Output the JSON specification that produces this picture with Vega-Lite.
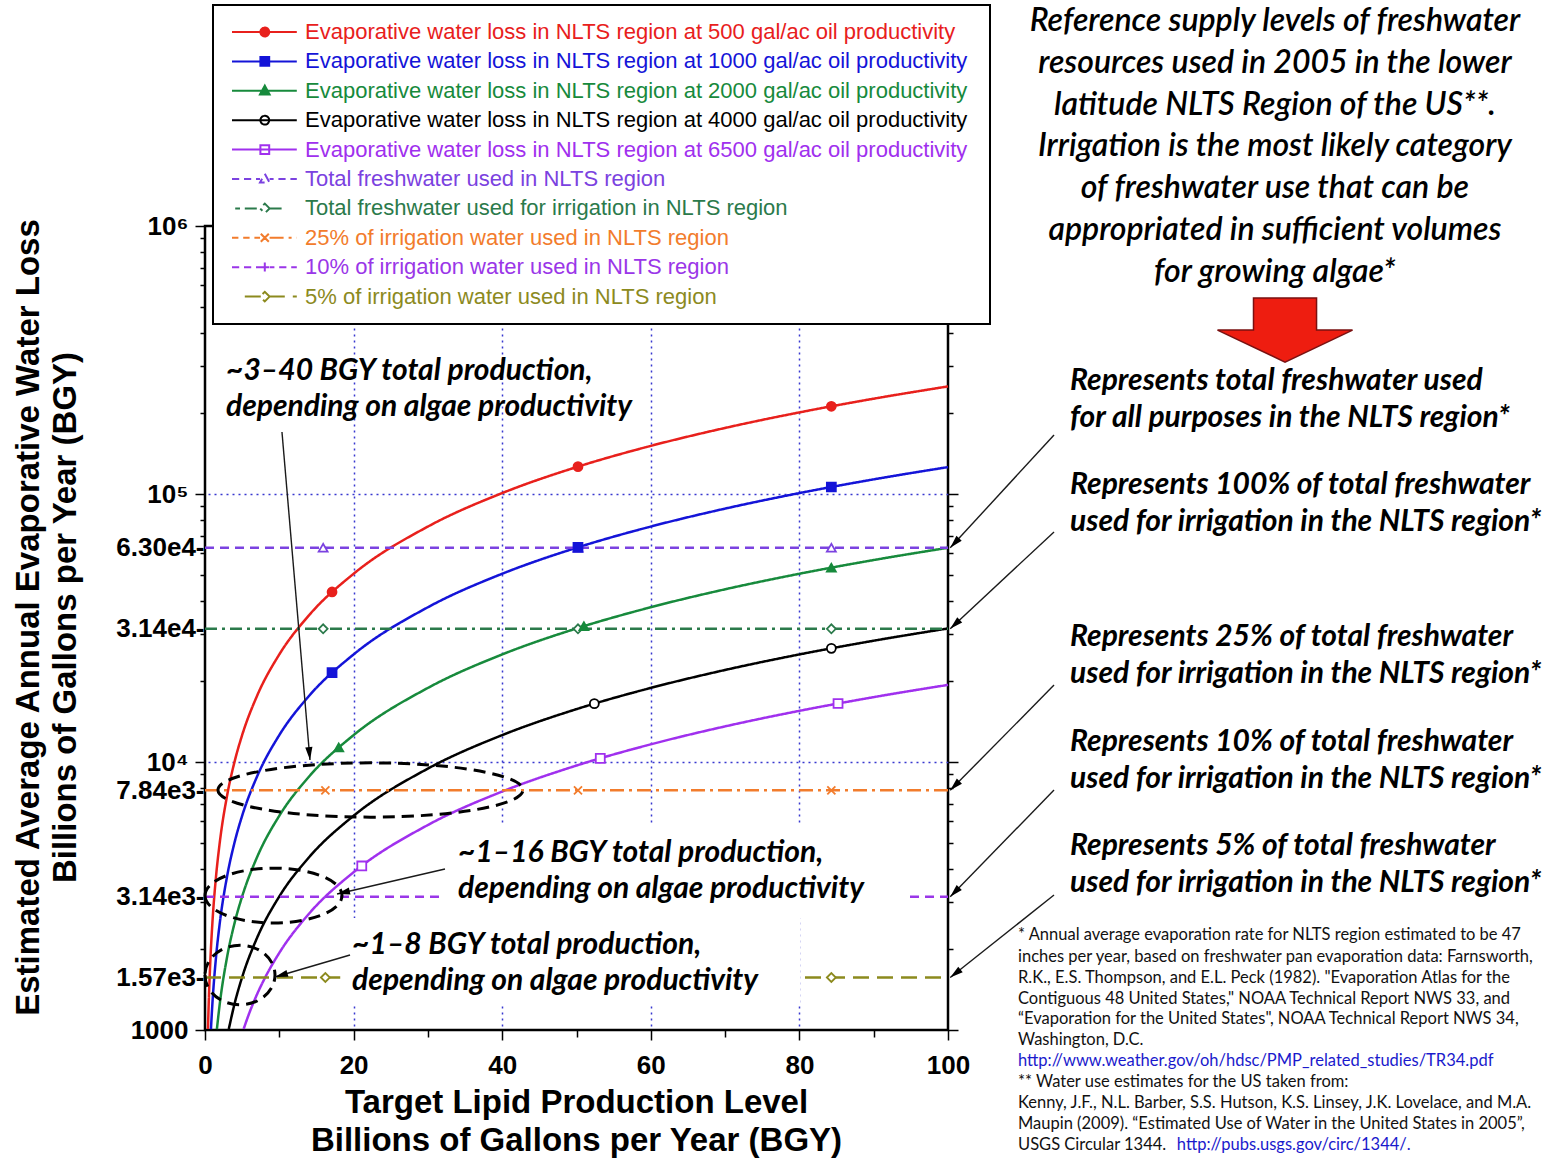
{
"$schema": "https://vega.github.io/schema/vega-lite/v6.json",
"width": 743, "height": 804,
"autosize": {"type": "none"},
"padding": {"left": 205, "top": 226, "right": 611, "bottom": 130},
"background": "white",
"config": {
  "view": {"stroke": "black", "strokeWidth": 2.5},
  "axis": {"labelFont": "Liberation Sans", "labelFontWeight": "bold", "labelColor": "black", "titleFont": "Liberation Sans", "titleFontWeight": "bold", "titleColor": "black", "domain": false, "tickColor": "black", "tickWidth": 1.5}
},
"datasets": {
  "lines": [
    {"series":"e500","x":0.4,"y":1008},{"series":"e500","x":0.5,"y":1260},{"series":"e500","x":0.7,"y":1764},{"series":"e500","x":1,"y":2520},{"series":"e500","x":1.5,"y":3780},{"series":"e500","x":2,"y":5040},{"series":"e500","x":3,"y":7560},{"series":"e500","x":4,"y":10080},{"series":"e500","x":5,"y":12600},{"series":"e500","x":7,"y":17640},{"series":"e500","x":10,"y":25200},{"series":"e500","x":14,"y":35280},{"series":"e500","x":20,"y":50400},{"series":"e500","x":30,"y":75600},{"series":"e500","x":40,"y":100800},{"series":"e500","x":50,"y":126000},{"series":"e500","x":60,"y":151200},{"series":"e500","x":70,"y":176400},{"series":"e500","x":80,"y":201600},{"series":"e500","x":90,"y":226800},{"series":"e500","x":100,"y":252000},
    {"series":"e1000","x":0.8,"y":1008},{"series":"e1000","x":1,"y":1260},{"series":"e1000","x":1.5,"y":1890},{"series":"e1000","x":2,"y":2520},{"series":"e1000","x":3,"y":3780},{"series":"e1000","x":4,"y":5040},{"series":"e1000","x":5,"y":6300},{"series":"e1000","x":7,"y":8820},{"series":"e1000","x":10,"y":12600},{"series":"e1000","x":14,"y":17640},{"series":"e1000","x":20,"y":25200},{"series":"e1000","x":30,"y":37800},{"series":"e1000","x":40,"y":50400},{"series":"e1000","x":50,"y":63000},{"series":"e1000","x":60,"y":75600},{"series":"e1000","x":70,"y":88200},{"series":"e1000","x":80,"y":100800},{"series":"e1000","x":90,"y":113400},{"series":"e1000","x":100,"y":126000},
    {"series":"e2000","x":1.6,"y":1008},{"series":"e2000","x":2,"y":1260},{"series":"e2000","x":3,"y":1890},{"series":"e2000","x":4,"y":2520},{"series":"e2000","x":5,"y":3150},{"series":"e2000","x":7,"y":4410},{"series":"e2000","x":10,"y":6300},{"series":"e2000","x":14,"y":8820},{"series":"e2000","x":20,"y":12600},{"series":"e2000","x":30,"y":18900},{"series":"e2000","x":40,"y":25200},{"series":"e2000","x":50,"y":31500},{"series":"e2000","x":60,"y":37800},{"series":"e2000","x":70,"y":44100},{"series":"e2000","x":80,"y":50400},{"series":"e2000","x":90,"y":56700},{"series":"e2000","x":100,"y":63000},
    {"series":"e4000","x":3.2,"y":1008},{"series":"e4000","x":4,"y":1260},{"series":"e4000","x":5,"y":1575},{"series":"e4000","x":7,"y":2205},{"series":"e4000","x":10,"y":3150},{"series":"e4000","x":14,"y":4410},{"series":"e4000","x":20,"y":6300},{"series":"e4000","x":30,"y":9450},{"series":"e4000","x":40,"y":12600},{"series":"e4000","x":50,"y":15750},{"series":"e4000","x":60,"y":18900},{"series":"e4000","x":70,"y":22050},{"series":"e4000","x":80,"y":25200},{"series":"e4000","x":90,"y":28350},{"series":"e4000","x":100,"y":31500},
    {"series":"e6500","x":5.2,"y":1009},{"series":"e6500","x":6,"y":1164},{"series":"e6500","x":7,"y":1358},{"series":"e6500","x":8,"y":1552},{"series":"e6500","x":10,"y":1940},{"series":"e6500","x":14,"y":2716},{"series":"e6500","x":20,"y":3880},{"series":"e6500","x":30,"y":5820},{"series":"e6500","x":40,"y":7760},{"series":"e6500","x":50,"y":9700},{"series":"e6500","x":60,"y":11640},{"series":"e6500","x":70,"y":13580},{"series":"e6500","x":80,"y":15520},{"series":"e6500","x":90,"y":17460},{"series":"e6500","x":100,"y":19400},
    {"series":"total","x":0,"y":63000},{"series":"total","x":100,"y":63000},
    {"series":"irr","x":0,"y":31400},{"series":"irr","x":100,"y":31400},
    {"series":"p25","x":0,"y":7840},{"series":"p25","x":100,"y":7840},
    {"series":"p10","x":0,"y":3140},{"series":"p10","x":100,"y":3140},
    {"series":"p5","x":0,"y":1570},{"series":"p5","x":100,"y":1570}
  ],
  "markers": [
    {"series":"total","x":15.9,"y":63000},{"series":"total","x":50.2,"y":63000},{"series":"total","x":84.3,"y":63000},
    {"series":"irr","x":15.9,"y":31400},{"series":"irr","x":50.2,"y":31400},{"series":"irr","x":84.3,"y":31400},
    {"series":"p25","x":16.2,"y":7840},{"series":"p25","x":50.2,"y":7840},{"series":"p25","x":84.3,"y":7840},
    {"series":"p10","x":50.2,"y":3140},{"series":"p10","x":84.3,"y":3140},
    {"series":"p5","x":16.2,"y":1570},{"series":"p5","x":50.2,"y":1570},{"series":"p5","x":84.3,"y":1570},
    {"series":"e500","x":17.1,"y":43100},{"series":"e500","x":50.2,"y":126500},{"series":"e500","x":84.3,"y":212400},
    {"series":"e1000","x":17.1,"y":21550},{"series":"e1000","x":50.2,"y":63250},{"series":"e1000","x":84.3,"y":106200},
    {"series":"e2000","x":18.0,"y":11340},{"series":"e2000","x":51.0,"y":32130},{"series":"e2000","x":84.3,"y":53110},
    {"series":"e4000","x":52.4,"y":16510},{"series":"e4000","x":84.3,"y":26550},
    {"series":"e6500","x":21.1,"y":4093},{"series":"e6500","x":53.2,"y":10320},{"series":"e6500","x":85.2,"y":16530}
  ],
  "boxes": [
    {"x":31.6,"x2":94.2,"y":5821,"y2":2618},
    {"x":18.2,"x2":80.1,"y":2618,"y2":1261}
  ],
  "ellipses": [
    {"id":"E1","x":22.27,"y":7862},
    {"id":"E2","x":9.22,"y":3175},
    {"id":"E3","x":4.71,"y":1604}
  ],
  "arrows": [
    {"id":"A1","x":10.36,"y":170300,"x2":14.13,"y2":10170,"angle":175},
    {"id":"A2","x":32.3,"y":3988,"x2":17.77,"y2":3217,"angle":-103},
    {"id":"A3","x":19.52,"y":1905,"x2":9.42,"y2":1577,"angle":-106},
    {"id":"R1","x":114.27,"y":166000,"x2":100.3,"y2":63000,"angle":-137},
    {"id":"R2","x":114.27,"y":72200,"x2":100.3,"y2":31400,"angle":-133},
    {"id":"R3","x":114.27,"y":19360,"x2":100.3,"y2":7840,"angle":-135},
    {"id":"R4","x":114.27,"y":7862,"x2":100.3,"y2":3140,"angle":-136},
    {"id":"R5","x":114.27,"y":3189,"x2":100.3,"y2":1570,"angle":-128}
  ],
  "ann": [
    {"txt":"~3–40 BGY total production,\ndepending on algae productivity","x":2.83,"y":287700},
    {"txt":"~1–16 BGY total production,\ndepending on algae productivity","x":34.05,"y":4576},
    {"txt":"~1–8 BGY total production,\ndepending on algae productivity","x":19.8,"y":2076}
  ],
  "head": [
    {"txt":"Reference supply levels of freshwater\nresources used in 2005 in the lower\nlatitude NLTS Region of the US**.\nIrrigation is the most likely category\nof freshwater use that can be\nappropriated in sufficient volumes\nfor growing algae*","x":144.0,"y":5820000}
  ],
  "side": [
    {"txt":"Represents total freshwater used\nfor all purposes in the NLTS region*","x":116.42,"y":264000},
    {"txt":"Represents 100% of total freshwater\nused for irrigation in the NLTS region*","x":116.42,"y":108000},
    {"txt":"Represents 25% of total freshwater\nused for irrigation in the NLTS region*","x":116.42,"y":29270},
    {"txt":"Represents 10% of total  freshwater\nused for irrigation in the NLTS region*","x":116.42,"y":11874},
    {"txt":"Represents 5% of total freshwater\nused for irrigation in the NLTS region*","x":116.42,"y":4860}
  ],
  "foot": [
    {"txt":"* Annual average evaporation  rate for NLTS region estimated to be 47","x":109.42,"y":2262,"link":false},
    {"txt":"inches per year, based on freshwater pan evaporation data:  Farnsworth,","x":109.42,"y":1873,"link":false},
    {"txt":"R.K., E.S. Thompson, and E.L. Peck (1982).  \"Evaporation Atlas for the","x":109.42,"y":1563,"link":false},
    {"txt":"Contiguous 48 United States,\" NOAA Technical Report NWS 33, and","x":109.42,"y":1305,"link":false},
    {"txt":"“Evaporation for the United States\", NOAA Technical Report NWS 34,","x":109.42,"y":1099,"link":false},
    {"txt":"Washington, D.C.","x":109.42,"y":917.6,"link":false},
    {"txt":"http://www.weather.gov/oh/hdsc/PMP_related_studies/TR34.pdf","x":109.42,"y":766,"link":true},
    {"txt":"** Water use estimates for the US taken from:","x":109.42,"y":639.7,"link":false},
    {"txt":"Kenny, J.F., N.L. Barber, S.S. Hutson, K.S. Linsey, J.K. Lovelace, and M.A.","x":109.42,"y":534.1,"link":false},
    {"txt":"Maupin (2009).  “Estimated Use of Water in the United States in 2005”,","x":109.42,"y":446,"link":false},
    {"txt":"USGS Circular 1344.","x":109.42,"y":372.4,"link":false},
    {"txt":"http://pubs.usgs.gov/circ/1344/.","x":130.8,"y":372.4,"link":true}
  ],
  "bigarrow": [{"x":145.36,"y":409000}]
},
"resolve": {"axis": {"y": "independent"}},
"layer": [
  {
    "data": {"name": "lines"},
    "mark": {"type": "line", "strokeWidth": 2.5, "interpolate": "monotone"},
    "encoding": {
      "x": {"field": "x", "type": "quantitative", "scale": {"domain": [0, 100], "nice": false, "zero": false},
        "axis": {"orient": "bottom", "values": [0,5,10,15,20,25,30,35,40,45,50,55,60,65,70,75,80,85,90,95,100],
          "labelExpr": "datum.value % 20 == 0 ? datum.label : ''", "labelFontSize": 26, "labelPadding": 12, "labelFlush": false, "labelOverlap": false, "labelBound": false,
          "tickSize": {"condition": {"test": "datum.value % 20 == 0", "value": 10}, "value": 7},
          "grid": true, "gridColor": "#3838d0", "gridDash": [2, 4], "gridWidth": 1.5,
          "gridOpacity": {"condition": {"test": "datum.value % 20 == 0 && datum.value > 0 && datum.value < 100", "value": 1}, "value": 0},
          "title": ["Target Lipid Production Level", "Billions of Gallons per Year (BGY)"],
          "titleFontSize": 33, "titleLineHeight": 38, "titleX": 371, "titleY": 56, "titleBaseline": "top", "titleAlign": "center", "titleAngle": 0}},
      "y": {"field": "y", "type": "quantitative", "scale": {"type": "log", "domain": [1000, 1000000], "nice": false},
        "axis": {"orient": "left", "values": [1000,1570,2000,3000,3140,4000,5000,6000,7000,7840,8000,9000,10000,20000,30000,31400,40000,50000,60000,63000,70000,80000,90000,100000,200000,300000,400000,500000,600000,700000,800000,900000,1000000],
          "labelExpr": "datum.value == 1000000 ? '10⁶' : datum.value == 100000 ? '10⁵' : datum.value == 10000 ? '10⁴' : datum.value == 1000 ? '1000' : datum.value == 63000 ? '6.30e4-' : datum.value == 31400 ? '3.14e4-' : datum.value == 7840 ? '7.84e3-' : datum.value == 3140 ? '3.14e3-' : datum.value == 1570 ? '1.57e3-' : ''",
          "labelFontSize": 26, "labelOverlap": false, "labelFlush": false, "labelBound": false, "grid": false,
          "tickSize": {"condition": [{"test": "datum.value == 1000 || datum.value == 10000 || datum.value == 100000 || datum.value == 1000000", "value": 10}, {"test": "indexof([1570,3140,7840,31400,63000], datum.value) >= 0", "value": 0}], "value": 5},
          "labelPadding": {"condition": {"test": "indexof([1570,3140,7840,31400,63000], datum.value) >= 0", "value": 1}, "value": 7},
          "title": ["Estimated Average Annual Evaporative Water Loss", "Billions of Gallons per Year (BGY)"],
          "titleFontSize": 33, "titleLineHeight": 37, "titleX": -193, "titleY": 391, "titleBaseline": "top", "titleAlign": "center", "titleAngle": -90}},
      "stroke": {"field": "series", "type": "nominal", "scale": {"domain": ["e500","e1000","e2000","e4000","e6500","total","irr","p25","p10","p5"], "range": ["#e8201c","#1414d8","#178a3c","#000000","#a030ee","#7b42e0","#2b7a4b","#f27c2c","#9a36e8","#8c8a1e"]}},
      "strokeDash": {"field": "series", "type": "nominal", "scale": {"domain": ["e500","e1000","e2000","e4000","e6500","total","irr","p25","p10","p5"], "range": [[1,0],[1,0],[1,0],[1,0],[1,0],[9,6],[12,5,3,5],[14,5,3,5],[9,6],[16,8]]}, "legend": null}
    }
  },
  {
    "data": {"name": "markers"},
    "mark": {"type": "point", "size": 80, "strokeWidth": 1.8, "opacity": 1, "filled": false},
    "encoding": {
      "x": {"field": "x", "type": "quantitative"},
      "y": {"field": "y", "type": "quantitative",
        "axis": {"orient": "right", "values": [1000,2000,3000,4000,5000,6000,7000,8000,9000,10000,20000,30000,40000,50000,60000,70000,80000,90000,100000,200000,300000,400000,500000,600000,700000,800000,900000,1000000],
          "labels": false, "title": null, "grid": true, "gridColor": "#3838d0", "gridDash": [2, 4], "gridWidth": 1.5,
          "gridOpacity": {"condition": {"test": "datum.value == 10000 || datum.value == 100000", "value": 1}, "value": 0},
          "tickSize": {"condition": {"test": "datum.value == 1000 || datum.value == 10000 || datum.value == 100000 || datum.value == 1000000", "value": 10}, "value": 5}}},
      "stroke": {"field": "series", "type": "nominal", "scale": {"domain": ["e500","e1000","e2000","e4000","e6500","total","irr","p25","p10","p5"], "range": ["#e8201c","#1414d8","#178a3c","#000000","#a030ee","#7b42e0","#2b7a4b","#f27c2c","#9a36e8","#8c8a1e"]}},
      "fill": {"condition": [{"test": "datum.series == 'e500'", "value": "#e8201c"}, {"test": "datum.series == 'e1000'", "value": "#1414d8"}, {"test": "datum.series == 'e2000'", "value": "#178a3c"}], "value": "white"},
      "shape": {"condition": [{"test": "datum.series == 'e1000' || datum.series == 'e6500'", "value": "square"}, {"test": "datum.series == 'e2000' || datum.series == 'total'", "value": "triangle-up"}, {"test": "datum.series == 'irr' || datum.series == 'p5'", "value": "diamond"}, {"test": "datum.series == 'p25'", "value": "M-0.9,-0.9L0.9,0.9M-0.9,0.9L0.9,-0.9"}, {"test": "datum.series == 'p10'", "value": "M-1,0H1M0,-1V1"}], "value": "circle"}
    }
  },
  {
    "data": {"name": "boxes"},
    "mark": {"type": "rect", "fill": "white"},
    "encoding": {
      "x": {"field": "x", "type": "quantitative"}, "x2": {"field": "x2"},
      "y": {"field": "y", "type": "quantitative", "axis": null}, "y2": {"field": "y2"}
    }
  },
  {
    "data": {"name": "ellipses"},
    "mark": {"type": "point", "filled": false, "stroke": "black", "strokeWidth": 3, "strokeDash": [12, 7], "opacity": 1},
    "encoding": {
      "x": {"field": "x", "type": "quantitative"},
      "y": {"field": "y", "type": "quantitative", "axis": null},
      "shape": {"condition": [{"test": "datum.id == 'E1'", "value": "M-1,0A1,0.178,0,1,0,1,0A1,0.178,0,1,0,-1,0Z"}, {"test": "datum.id == 'E2'", "value": "M-1,0A1,0.40,0,1,0,1,0A1,0.40,0,1,0,-1,0Z"}], "value": "M-1,0A1,0.85,0,1,0,1,0A1,0.85,0,1,0,-1,0Z"},
      "size": {"condition": [{"test": "datum.id == 'E1'", "value": 93025}, {"test": "datum.id == 'E2'", "value": 18769}], "value": 4900}
    }
  },
  {
    "data": {"name": "arrows"},
    "mark": {"type": "rule", "stroke": "#1a1a1a", "strokeWidth": 1.4},
    "encoding": {
      "x": {"field": "x", "type": "quantitative"}, "x2": {"field": "x2"},
      "y": {"field": "y", "type": "quantitative", "axis": null}, "y2": {"field": "y2"}
    }
  },
  {
    "data": {"name": "arrows"},
    "mark": {"type": "point", "filled": true, "color": "black", "opacity": 1, "size": 208, "shape": "M0,0L0.5,1.8L-0.5,1.8Z"},
    "encoding": {
      "x": {"field": "x2", "type": "quantitative"},
      "y": {"field": "y2", "type": "quantitative", "axis": null},
      "angle": {"field": "angle", "type": "quantitative", "scale": null}
    }
  },
  {
    "data": {"name": "ann"},
    "mark": {"type": "text", "font": "Lato", "fontSize": 30, "fontStyle": "italic", "fontWeight": "bold", "align": "left", "baseline": "middle", "lineBreak": "\n", "lineHeight": 36, "color": "black"},
    "encoding": {
      "x": {"field": "x", "type": "quantitative"},
      "y": {"field": "y", "type": "quantitative", "axis": null},
      "text": {"field": "txt"}
    }
  },
  {
    "data": {"name": "head"},
    "mark": {"type": "text", "font": "Lato", "fontSize": 32, "fontStyle": "italic", "fontWeight": 600, "align": "center", "baseline": "middle", "lineBreak": "\n", "lineHeight": 41.8, "color": "black"},
    "encoding": {
      "x": {"field": "x", "type": "quantitative"},
      "y": {"field": "y", "type": "quantitative", "axis": null},
      "text": {"field": "txt"}
    }
  },
  {
    "data": {"name": "side"},
    "mark": {"type": "text", "font": "Lato", "fontSize": 30, "fontStyle": "italic", "fontWeight": "bold", "align": "left", "baseline": "middle", "lineBreak": "\n", "lineHeight": 37, "color": "black"},
    "encoding": {
      "x": {"field": "x", "type": "quantitative"},
      "y": {"field": "y", "type": "quantitative", "axis": null},
      "text": {"field": "txt"}
    }
  },
  {
    "data": {"name": "foot"},
    "mark": {"type": "text", "font": "Lato", "fontSize": 16.5, "align": "left", "baseline": "middle"},
    "encoding": {
      "x": {"field": "x", "type": "quantitative"},
      "y": {"field": "y", "type": "quantitative", "axis": null},
      "text": {"field": "txt"},
      "color": {"condition": {"test": "datum.link", "value": "#1a1acc"}, "value": "#111111"}
    }
  },
  {
    "data": {"name": "bigarrow"},
    "mark": {"type": "point", "filled": true, "fill": "#ee1d10", "stroke": "#7a1010", "strokeWidth": 1.5, "opacity": 1, "size": 18225, "shape": "M-0.467,-0.474H0.467V0H1L0,0.474L-1,0H-0.467Z"},
    "encoding": {
      "x": {"field": "x", "type": "quantitative"},
      "y": {"field": "y", "type": "quantitative", "axis": null}
    }
  },
  {
    "data": {"name": "markers"},
    "mark": {"type": "point", "filled": false, "size": 256, "strokeWidth": 2, "strokeOpacity": 0, "fillOpacity": 0},
    "encoding": {
      "x": {"field": "x", "type": "quantitative"},
      "y": {"field": "y", "type": "quantitative", "axis": null},
      "stroke": {"field": "series", "type": "nominal", "title": null,
        "scale": {"domain": ["e500","e1000","e2000","e4000","e6500","total","irr","p25","p10","p5"], "range": ["#e8201c","#1414d8","#178a3c","#000000","#a030ee","#7b42e0","#2b7a4b","#f27c2c","#9a36e8","#8c8a1e"]},
        "legend": {"orient": "none", "legendX": 8, "legendY": -221, "padding": 16, "strokeColor": "black", "fillColor": "white", "labelFont": "Liberation Sans", "labelFontSize": 22, "labelLimit": 900, "labelOffset": 54, "symbolSize": 256, "symbolStrokeWidth": 2, "rowPadding": 7.4,
          "labelExpr": "{'e500':'Evaporative water loss in NLTS region at 500 gal/ac oil productivity','e1000':'Evaporative water loss in NLTS region at 1000 gal/ac oil productivity','e2000':'Evaporative water loss in NLTS region at  2000 gal/ac oil productivity','e4000':'Evaporative water loss in NLTS region at 4000 gal/ac oil productivity','e6500':'Evaporative water loss in NLTS region at 6500 gal/ac oil productivity','total':'Total freshwater used in NLTS region','irr':'Total freshwater used for irrigation in NLTS region','p25':'25% of irrigation water used in NLTS region','p10':'10% of irrigation water used in NLTS region','p5':'5% of irrigation water used in NLTS region'}[datum.value]",
          "encode": {"legend": {"update": {"strokeWidth": {"value": 2}}}, "labels": {"update": {"fill": {"scale": "stroke", "field": "value"}}}, "symbols": {"update": {"strokeOpacity": {"value": 1}, "fillOpacity": {"value": 1}, "opacity": {"value": 1}}}}}},
      "fill": {"field": "series", "type": "nominal", "title": null,
        "scale": {"domain": ["e500","e1000","e2000","e4000","e6500","total","irr","p25","p10","p5"], "range": ["#e8201c","#1414d8","#178a3c","#ffffff","#ffffff","#ffffff","#ffffff","#ffffff","#ffffff","#ffffff"]},
        "legend": {"orient": "none", "legendX": 8, "legendY": -221, "padding": 16, "strokeColor": "black", "fillColor": "white", "labelFont": "Liberation Sans", "labelFontSize": 22, "labelLimit": 900, "labelOffset": 54, "symbolSize": 256, "symbolStrokeWidth": 2, "rowPadding": 7.4,
          "labelExpr": "{'e500':'Evaporative water loss in NLTS region at 500 gal/ac oil productivity','e1000':'Evaporative water loss in NLTS region at 1000 gal/ac oil productivity','e2000':'Evaporative water loss in NLTS region at  2000 gal/ac oil productivity','e4000':'Evaporative water loss in NLTS region at 4000 gal/ac oil productivity','e6500':'Evaporative water loss in NLTS region at 6500 gal/ac oil productivity','total':'Total freshwater used in NLTS region','irr':'Total freshwater used for irrigation in NLTS region','p25':'25% of irrigation water used in NLTS region','p10':'10% of irrigation water used in NLTS region','p5':'5% of irrigation water used in NLTS region'}[datum.value]",
          "encode": {"legend": {"update": {"strokeWidth": {"value": 2}}}, "labels": {"update": {"fill": {"scale": "stroke", "field": "value"}}}, "symbols": {"update": {"strokeOpacity": {"value": 1}, "fillOpacity": {"value": 1}, "opacity": {"value": 1}}}}}},
      "shape": {"field": "series", "type": "nominal", "title": null,
        "scale": {"domain": ["e500","e1000","e2000","e4000","e6500","total","irr","p25","p10","p5"], "range": [
          "M-1,0H7.1M2.55,0A0.55,0.55,0,1,1,3.65,0A0.55,0.55,0,1,1,2.55,0Z",
          "M-1,0H7.1M2.55,-0.55H3.65V0.55H2.55Z",
          "M-1,0H7.1M3.1,-0.65L3.7,0.45H2.5Z",
          "M-1,0H7.1M2.55,0A0.55,0.55,0,1,1,3.65,0A0.55,0.55,0,1,1,2.55,0Z",
          "M-1,0H7.1M2.55,-0.55H3.65V0.55H2.55Z",
          "M-1,0H-0.1M0.5,0H1.4M2,0H2.5M3.7,0H4.2M4.8,0H5.7M6.3,0H7.1M3.1,-0.65L3.7,0.45H2.5Z",
          "M-0.6,0H0M0.6,0H2.5M3.7,0H5.6M3.1,-0.6L3.7,0L3.1,0.6L2.5,0Z",
          "M-1,0H-0.2M0.4,0H1.2M1.8,0H2.5M3.7,0H7.1M2.6,-0.5L3.6,0.5M2.6,0.5L3.6,-0.5",
          "M-1,0H-0.1M0.5,0H1.4M2,0H2.5M3.7,0H4.3M4.9,0H5.8M6.4,0H7.1M2.5,0H3.7M3.1,-0.6V0.6",
          "M0.6,0H7.1M3.1,-0.6L3.7,0L3.1,0.6L2.5,0Z"]},
        "legend": {"orient": "none", "legendX": 8, "legendY": -221, "padding": 16, "strokeColor": "black", "fillColor": "white", "labelFont": "Liberation Sans", "labelFontSize": 22, "labelLimit": 900, "labelOffset": 54, "symbolSize": 256, "symbolStrokeWidth": 2, "rowPadding": 7.4,
          "labelExpr": "{'e500':'Evaporative water loss in NLTS region at 500 gal/ac oil productivity','e1000':'Evaporative water loss in NLTS region at 1000 gal/ac oil productivity','e2000':'Evaporative water loss in NLTS region at  2000 gal/ac oil productivity','e4000':'Evaporative water loss in NLTS region at 4000 gal/ac oil productivity','e6500':'Evaporative water loss in NLTS region at 6500 gal/ac oil productivity','total':'Total freshwater used in NLTS region','irr':'Total freshwater used for irrigation in NLTS region','p25':'25% of irrigation water used in NLTS region','p10':'10% of irrigation water used in NLTS region','p5':'5% of irrigation water used in NLTS region'}[datum.value]",
          "encode": {"legend": {"update": {"strokeWidth": {"value": 2}}}, "labels": {"update": {"fill": {"scale": "stroke", "field": "value"}}}, "symbols": {"update": {"strokeOpacity": {"value": 1}, "fillOpacity": {"value": 1}, "opacity": {"value": 1}}}}}}
    }
  }
]
}
